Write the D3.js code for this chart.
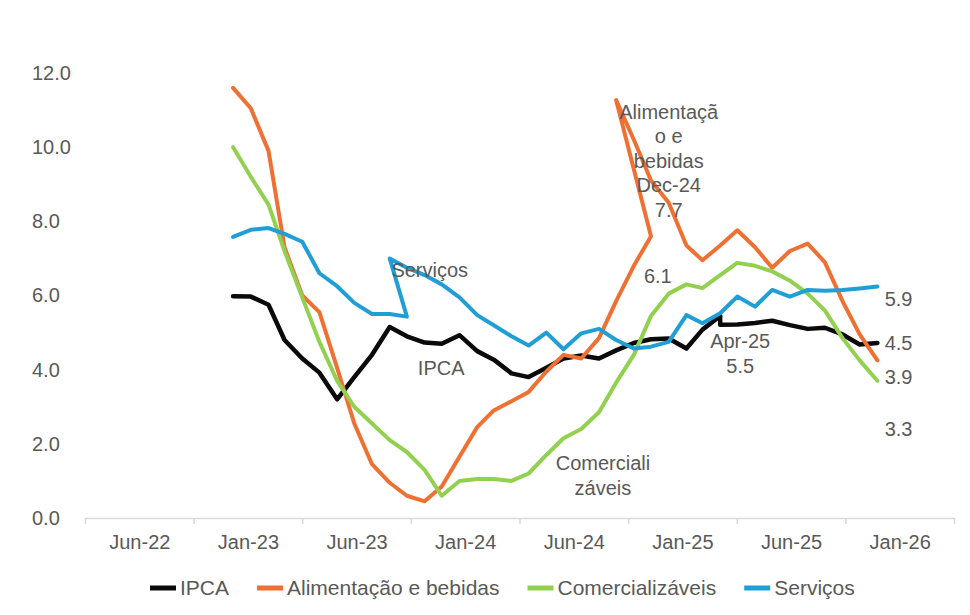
<!DOCTYPE html>
<html>
<head>
<meta charset="utf-8">
<script src="https://cdn.jsdelivr.net/npm/d3@7"></script>
<style>
  body { margin: 0; background: #fff; }
  svg { font-family: "Liberation Sans", Arial, sans-serif; }
</style>
</head>
<body>
<div id="chart"></div>
<script>
// monthly categories
const months = [
  "2022-12",
  "2023-01","2023-02","2023-03","2023-04","2023-05","2023-06",
  "2023-07","2023-08","2023-09","2023-10","2023-11","2023-12",
  "2024-01","2024-02","2024-03","2024-04","2024-05","2024-06",
  "2024-07","2024-08","2024-09","2024-10","2024-11","2024-12",
  "2025-01","2025-02","2025-03","2025-04","2025-05","2025-06",
  "2025-07","2025-08","2025-09","2025-10","2025-11","2025-12",
  "2026-01"
];

// each series is drawn as one path through its segments (the picture jumps back in time)
const ipca = [
  {start: "2022-12", values: [5.98, 5.97, 5.75, 4.8, 4.3, 3.92, 3.2, 3.8, 4.4, 5.15, 4.9, 4.73, 4.7,
    4.93, 4.5, 4.27, 3.9, 3.8, 4.05, 4.3, 4.38, 4.3, 4.52, 4.72, 4.82, 4.84, 4.57, 5.08, 5.45]},
  {start: "2025-04", values: [5.21, 5.22, 5.26, 5.32, 5.2, 5.1, 5.13, 4.95, 4.68, 4.72]}
];
const alimentacao = [
  {start: "2022-12", values: [11.6, 11.05, 9.9, 7.3, 6.0, 5.55, 4.05, 2.55, 1.45, 0.95, 0.6, 0.45, 0.85,
    1.65, 2.45, 2.9, 3.15, 3.4, 3.95, 4.4, 4.3, 4.85, 5.85, 6.8, 7.6]},
  {start: "2024-10", values: [11.27, 10.2, 9.1, 8.5, 7.35, 6.95, 7.35, 7.76, 7.3, 6.75, 7.2, 7.4, 6.9,
    5.85, 4.95, 4.25]}
];
const comercializaveis = [
  {start: "2022-12", values: [10.0, 9.2, 8.45, 7.2, 5.95, 4.75, 3.7, 3.0, 2.55, 2.1, 1.78, 1.3, 0.6,
    1.0, 1.05, 1.05, 1.0, 1.2, 1.7, 2.15, 2.4, 2.85, 3.65, 4.4, 5.45, 6.05, 6.3, 6.2, 6.55, 6.88,
    6.8, 6.65, 6.4, 6.05, 5.6, 4.85, 4.25, 3.7]}
];
const servicos = [
  {start: "2022-12", values: [7.58, 7.77, 7.82, 7.66, 7.45, 6.6, 6.25, 5.8, 5.5, 5.5, 5.43]},
  {start: "2023-09", values: [7.0, 6.75, 6.55, 6.3, 5.95, 5.47, 5.2, 4.9, 4.65, 5.0, 4.55, 4.98, 5.1,
    4.8, 4.57, 4.62, 4.75, 5.47, 5.25, 5.52, 5.97, 5.7, 6.15, 5.97, 6.15, 6.13, 6.15, 6.19, 6.24]}
];

const seriesNames = ["IPCA", "Alimentação e bebidas", "Comercializáveis", "Serviços"];
const seriesData = [ipca, alimentacao, comercializaveis, servicos];
const colors = ["#0a0a0a", "#ee7033", "#92d050", "#1f9fd6"];

const yTicks = [0, 2, 4, 6, 8, 10, 12];
const xTickLabels = ["Jun-22", "Jan-23", "Jun-23", "Jan-24", "Jun-24", "Jan-25", "Jun-25", "Jan-26"];

// data labels written on the chart
const annotations = [
  {lines: ["Alimentaçã", "o e", "bebidas", "Dec-24", "7.7"], date: "2025-01-01", value: 10.95},
  {lines: ["6.1"], date: "2024-12-13", value: 6.53},
  {lines: ["Serviços"], date: "2023-11-10", value: 6.69},
  {lines: ["IPCA"], date: "2023-11-30", value: 4.05},
  {lines: ["Apr-25", "5.5"], date: "2025-05-06", value: 4.76},
  {lines: ["Comerciali", "záveis"], date: "2024-09-08", value: 1.48},
  {lines: ["5.9"], date: "2026-02-07", value: 5.91},
  {lines: ["4.5"], date: "2026-02-07", value: 4.72},
  {lines: ["3.9"], date: "2026-02-07", value: 3.80},
  {lines: ["3.3"], date: "2026-02-07", value: 2.40}
];

const width = 970, height = 615;
const plot = {left: 85, right: 954, top: 73, bottom: 518};
const textColor = "#595959";
const fontSize = 20;

const parseMonth = d3.timeParse("%Y-%m");
const parseDay = d3.timeParse("%Y-%m-%d");

const svg = d3.select("#chart").append("svg")
  .attr("width", width)
  .attr("height", height);

// date axis: 8 intervals of 190 days, label in the middle of each interval
const axisStart = new Date(2022, 2, 17);
const axisEnd = d3.timeDay.offset(axisStart, 190 * 8);

const x = d3.scaleTime()
  .domain([axisStart, axisEnd])
  .range([plot.left, plot.right]);

const y = d3.scaleLinear()
  .domain([0, 12])
  .range([plot.bottom, plot.top]);

// y axis: labels only, left aligned
const yAxis = svg.append("g")
  .attr("transform", `translate(${plot.left}, 0)`)
  .call(d3.axisLeft(y).tickValues(yTicks).tickFormat(d3.format(".1f")).tickSize(0));
yAxis.select(".domain").remove();
yAxis.selectAll("text")
  .attr("x", 32 - plot.left)
  .attr("text-anchor", "start")
  .attr("fill", textColor)
  .style("font-size", fontSize + "px");

// x axis line + tick marks
const boundaries = d3.range(9).map(i => d3.timeDay.offset(axisStart, 190 * i));
const xAxis = svg.append("g")
  .attr("transform", `translate(0, ${plot.bottom})`)
  .call(d3.axisBottom(x).tickValues(boundaries).tickFormat("").tickSize(6).tickSizeOuter(0));
xAxis.select(".domain").attr("stroke", "#d9d9d9").attr("stroke-width", 1.5);
xAxis.selectAll(".tick line").attr("stroke", "#d9d9d9").attr("stroke-width", 1.5);

// x labels
const mids = xTickLabels.map((d, i) => d3.timeDay.offset(axisStart, 95 + 190 * i));
const xLabels = svg.append("g")
  .attr("transform", `translate(0, ${plot.bottom})`)
  .call(d3.axisBottom(x).tickValues(mids).tickFormat((d, i) => xTickLabels[i]).tickSize(0).tickPadding(17));
xLabels.select(".domain").remove();
xLabels.selectAll("text")
  .attr("fill", textColor)
  .style("font-size", fontSize + "px");

// lines
const line = d3.line()
  .x(d => x(d.date))
  .y(d => y(d.value));

function toPoints(segments) {
  const pts = [];
  segments.forEach(seg => {
    const i0 = months.indexOf(seg.start);
    seg.values.forEach((v, i) => pts.push({date: parseMonth(months[i0 + i]), value: v}));
  });
  return pts;
}

svg.append("g").selectAll("path")
  .data(seriesData)
  .enter()
  .append("path")
  .attr("d", d => line(toPoints(d)))
  .attr("fill", "none")
  .attr("stroke", (d, i) => colors[i])
  .attr("stroke-width", (d, i) => i === 0 ? 4.5 : 4)
  .attr("stroke-linejoin", "round")
  .attr("stroke-linecap", "round");

// annotations
const ann = svg.append("g")
  .selectAll("text")
  .data(annotations)
  .enter()
  .append("text")
  .attr("x", d => x(parseDay(d.date)))
  .attr("y", d => y(d.value))
  .attr("text-anchor", "middle")
  .attr("fill", textColor)
  .style("font-size", fontSize + "px");

ann.selectAll("tspan")
  .data(d => d.lines.map(t => ({t, x: x(parseDay(d.date))})))
  .enter()
  .append("tspan")
  .attr("x", d => d.x)
  .attr("dy", (d, i) => i === 0 ? "0.35em" : "1.22em")
  .text(d => d.t);

// legend
const legend = svg.append("g").attr("transform", "translate(150, 588)");
let lx = 0;
seriesNames.forEach((name, i) => {
  legend.append("line")
    .attr("x1", lx).attr("x2", lx + 26)
    .attr("y1", 0).attr("y2", 0)
    .attr("stroke", colors[i])
    .attr("stroke-width", 5);
  const t = legend.append("text")
    .attr("x", lx + 30)
    .attr("y", 0)
    .attr("dy", "0.35em")
    .attr("fill", textColor)
    .style("font-size", "21px")
    .text(name);
  lx += 30 + t.node().getComputedTextLength() + 28;
});
</script>
</body>
</html>
